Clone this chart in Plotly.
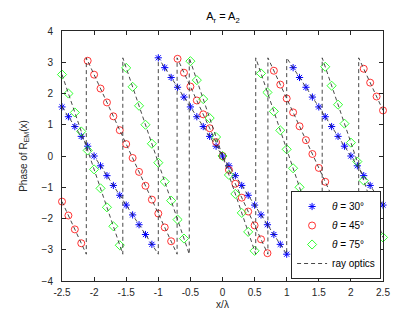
import plotly.graph_objects as go

# sample positions x/λ
x_vals = [round(-2.5 + 0.1 * k, 1) for k in range(51)]

# θ = 30°
phase_30 = [1.571, 1.257, 0.942, 0.628, 0.314, 0.000, -0.314, -0.628, -0.942, -1.257,
            -1.571, -1.885, -2.199, -2.513, -2.827, 3.142, 2.827, 2.513, 2.199, 1.885,
            1.571, 1.257, 0.942, 0.628, 0.314, 0.000, -0.314, -0.628, -0.942, -1.257,
            -1.571, -1.885, -2.199, -2.513, -2.827, -3.142, 2.827, 2.513, 2.199, 1.885,
            1.571, 1.257, 0.942, 0.628, 0.314, 0.000, -0.314, -0.628, -0.942, -1.257,
            -1.571]

# θ = 45°
phase_45 = [-1.459, -1.904, -2.348, -2.792, 3.047, 2.603, 2.158, 1.714, 1.270, 0.825,
            0.381, -0.063, -0.508, -0.952, -1.396, -1.840, -2.285, -2.729, 3.110, 2.666,
            2.221, 1.777, 1.333, 0.889, 0.444, 0.000, -0.444, -0.889, -1.333, -1.777,
            -2.221, -2.666, -3.110, 2.729, 2.285, 1.840, 1.396, 0.952, 0.508, 0.063,
            -0.381, -0.825, -1.270, -1.714, -2.158, -2.603, -3.047, 2.792, 2.348, 1.904,
            1.459]

# θ = 75°
phase_75 = [2.606, 1.999, 1.393, 0.786, 0.179, -0.428, -1.035, -1.642, -2.249, -2.856,
            2.820, 2.214, 1.607, 1.000, 0.393, -0.214, -0.821, -1.428, -2.035, -2.642,
            3.035, 2.428, 1.821, 1.214, 0.607, 0.000, -0.607, -1.214, -1.821, -2.428,
            -3.035, 2.642, 2.035, 1.428, 0.821, 0.214, -0.393, -1.000, -1.607, -2.214,
            -2.820, 2.856, 2.249, 1.642, 1.035, 0.428, -0.179, -0.786, -1.393, -1.999,
            -2.606]

# ray optics sawtooth breakpoints (None separates the three curves)
ray_x = [-2.5, -1.0, -1.0, 1.0, 1.0, 2.5, None,
         -2.5, -2.1213, -2.1213, -0.7071, -0.7071, 0.7071, 0.7071, 2.1213, 2.1213, 2.5, None,
         -2.5, -1.5529, -1.5529, -0.5176, -0.5176, 0.5176, 0.5176, 1.5529, 1.5529, 2.5]
ray_y = [1.5708, -3.1416, 3.1416, -3.1416, 3.1416, -1.5708, None,
         -1.4592, -3.1416, 3.1416, -3.1416, 3.1416, -3.1416, 3.1416, -3.1416, 3.1416, 1.4592, None,
         2.6063, -3.1416, 3.1416, -3.1416, 3.1416, -3.1416, 3.1416, -3.1416, 3.1416, -2.6063]

x_ticks = [-2.5, -2, -1.5, -1, -0.5, 0, 0.5, 1, 1.5, 2, 2.5]
x_tick_text = ["-2.5", "-2", "-1.5", "-1", "-0.5", "0", "0.5", "1", "1.5", "2", "2.5"]
y_ticks = [-4, -3, -2, -1, 0, 1, 2, 3, 4]

FONT = "Liberation Sans, Arial, sans-serif"
AX = "#262626"

fig = go.Figure()
fig.add_trace(go.Scatter(x=x_vals, y=phase_30, mode="markers", cliponaxis=False,
                         name="<i>θ</i> = 30°",
                         marker=dict(symbol="asterisk-open", size=6, color="#0000ff",
                                     line=dict(color="#0000ff", width=1))))
fig.add_trace(go.Scatter(x=x_vals, y=phase_45, mode="markers", cliponaxis=False,
                         name="<i>θ</i> = 45°",
                         marker=dict(symbol="circle-open", size=7, color="#ff0000",
                                     line=dict(color="#ff0000", width=0.8))))
fig.add_trace(go.Scatter(x=x_vals, y=phase_75, mode="markers", cliponaxis=False,
                         name="<i>θ</i> = 75°",
                         marker=dict(symbol="diamond-open", size=7, color="#00ff00",
                                     line=dict(color="#00ff00", width=0.8))))
fig.add_trace(go.Scatter(x=ray_x, y=ray_y, mode="lines", name="ray optics",
                         line=dict(color="#333333", width=0.9, dash="4px,3px")))

axis_common = dict(showgrid=False, zeroline=False, showline=True, mirror="ticks",
                   linecolor=AX, linewidth=1, ticks="inside", ticklen=4,
                   tickcolor=AX, tickfont=dict(size=10, color=AX, family=FONT))

fig.update_layout(
    width=415, height=312,
    margin=dict(l=54, r=40, t=23, b=35),
    paper_bgcolor="white", plot_bgcolor="white",
    font=dict(family=FONT, size=10, color=AX),
    title=dict(text="A<sub>r</sub> = A<sub>2</sub>", x=0.518, xanchor="center",
               y=0.985, yanchor="top", font=dict(size=11, color="#000000")),
    xaxis=dict(range=[-2.5, 2.5], tickvals=x_ticks, ticktext=x_tick_text,
               ticklabelstandoff=2,
               title=dict(text="x/λ", standoff=3, font=dict(size=10)), **axis_common),
    yaxis=dict(range=[-4, 4], tickvals=y_ticks, ticklabelstandoff=6,
               title=dict(text="Phase of R<sub>EM</sub>(x)", standoff=12, font=dict(size=10)),
               **axis_common),
    legend=dict(x=0.994, y=0.008, xanchor="right", yanchor="bottom",
                bgcolor="white", bordercolor=AX, borderwidth=1,
                font=dict(size=10, family=FONT, color="#000000"),
                tracegroupgap=0, itemwidth=30),
    showlegend=True,
)

fig.write_html("out.html")
